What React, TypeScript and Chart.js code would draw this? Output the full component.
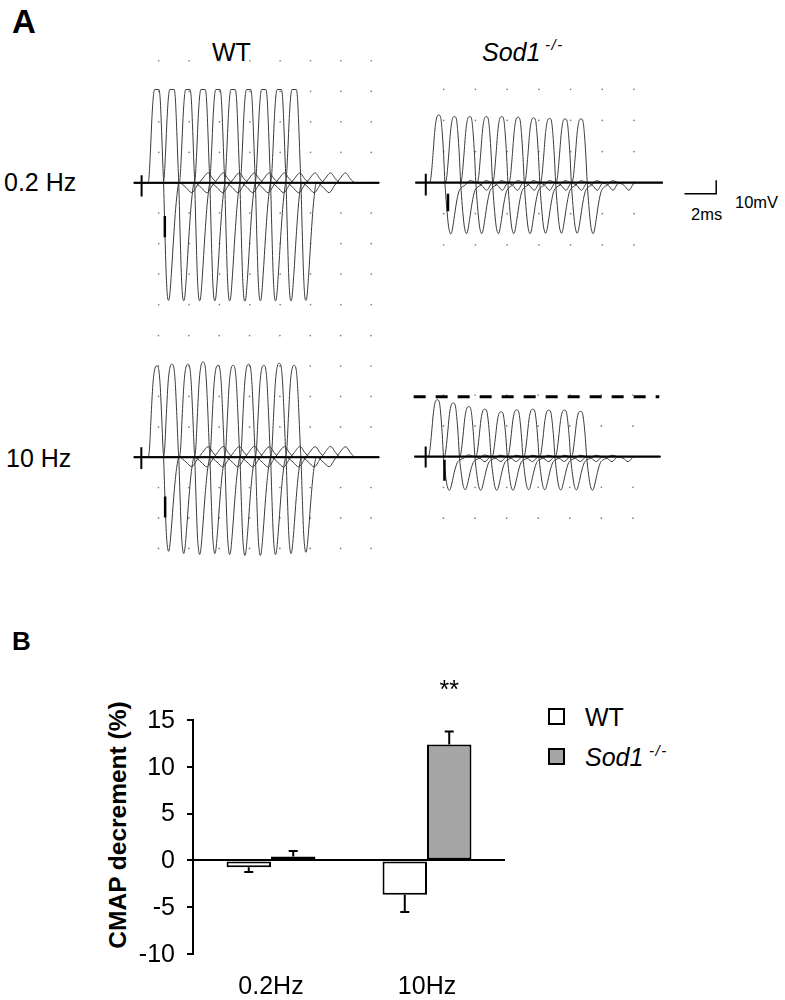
import React, { useEffect, useRef } from "react";
import { Chart, registerables } from "chart.js";

Chart.register(...registerables);

const FONT = "'Liberation Sans', Arial, Helvetica, sans-serif";

// ================= Panel B data =================
const FREQ_LABELS = ["0.2Hz", "10Hz"];
const WT_DECREMENT = [-0.72, -3.66];
const WT_SEM = [0.53, 1.86];
const SOD1_DECREMENT = [0.43, 12.39];
const SOD1_SEM = [0.57, 1.39];
const SOD1_SIGNIF = ["", "**"];
const Y_MIN = -10;
const Y_MAX = 15;
const Y_STEP = 5;

// ================= Panel A data (ms, mV) =================
// waveform templates: time from the positive peak (ms), amplitude normalised
// (positive part scaled by peak amplitude, negative part by trough amplitude)
const WT02_TPL_MS = [-0.575, -0.511, -0.415, -0.319, -0.224, -0.141, 0.141, 0.224, 0.319, 0.396, 0.447, 0.53, 0.626, 0.716, 0.78, 0.843, 0.958, 1.118, 1.278, 1.47, 1.917, 2.3, 2.684, 3.003, 3.387, 3.706, 4.026];
const WT02_TPL_AMP = [0, 0.06, 0.35, 0.7, 0.93, 1.0, 1.0, 0.9, 0.55, 0.2, 0, -0.4, -0.8, -0.98, -1.0, -0.97, -0.78, -0.45, -0.17, 0, -0.04, -0.085, -0.02, 0.04, 0.105, 0.04, 0];
const WT10_TPL_MS = [-0.575, -0.479, -0.383, -0.256, -0.128, 0, 0.128, 0.224, 0.319, 0.415, 0.447, 0.53, 0.626, 0.716, 0.78, 0.843, 0.958, 1.118, 1.278, 1.47, 1.917, 2.3, 2.684, 3.003, 3.387, 3.706, 4.026];
const WT10_TPL_AMP = [0, 0.1, 0.42, 0.8, 0.97, 1.0, 0.96, 0.78, 0.45, 0.08, 0, -0.4, -0.8, -0.97, -1.0, -0.96, -0.76, -0.42, -0.15, 0, -0.05, -0.1, -0.02, 0.05, 0.115, 0.05, 0];
const SOD_TPL_MS = [-0.585, -0.49, -0.37, -0.246, -0.123, 0, 0.123, 0.215, 0.308, 0.388, 0.49, 0.615, 0.708, 0.757, 0.83, 0.954, 1.108, 1.26, 1.415, 1.66, 1.97, 2.34, 2.7, 3.02, 3.32, 3.7];
const SOD_TPL_AMP = [0, 0.08, 0.4, 0.78, 0.97, 1.0, 0.96, 0.75, 0.4, 0, -0.45, -0.85, -0.98, -1.0, -0.95, -0.72, -0.4, -0.18, -0.1, -0.05, 0.03, 0, -0.05, -0.15, -0.02, 0];

// WT, 0.2 Hz
const WT02_PEAK_MS = [1.0, 2.0, 3.05, 4.05, 5.03, 6.03, 7.05, 8.05, 9.07, 10.05];
const WT02_PEAK_MV = [69.6, 69.6, 69.6, 69.6, 69.6, 69.6, 69.6, 69.6, 69.6, 69.6];
const WT02_TROUGH_MV = [87.9, 88.2, 88.2, 88.2, 88.2, 88.5, 88.2, 88.2, 88.2, 87.9];
// WT, 10 Hz
const WT10_PEAK_MS = [1.02, 2.02, 3.07, 4.07, 5.05, 6.05, 7.07, 8.07, 9.09, 10.07];
const WT10_PEAK_MV = [68.4, 69.6, 69.6, 71.3, 68.8, 68.8, 69.6, 68.8, 70.3, 68.8];
const WT10_TROUGH_MV = [70.5, 72.2, 72.9, 72.2, 72.9, 73.6, 73.6, 72.9, 72.2, 71.2];
// Sod1-/-, 0.2 Hz
const SOD02_PEAK_MS = [0.82, 1.81, 2.77, 3.82, 4.79, 5.82, 6.8, 7.8, 8.79, 9.79];
const SOD02_PEAK_MV = [49.4, 48.3, 48.3, 48.3, 48.3, 47.8, 47.3, 46.9, 46.6, 46.6];
const SOD02_TROUGH_MV = [37.5, 37.3, 37.3, 37.3, 37.3, 37.3, 37.0, 37.0, 37.0, 37.3];
// Sod1-/-, 10 Hz
const SOD10_PEAK_MS = [0.74, 1.75, 2.73, 3.75, 4.78, 5.77, 6.79, 7.8, 8.79, 9.81];
const SOD10_PEAK_MV = [42.0, 39.6, 36.9, 35.0, 33.1, 34.5, 35.0, 34.3, 34.3, 33.4];
const SOD10_TROUGH_MV = [24.9, 24.5, 24.9, 24.9, 24.9, 24.5, 24.5, 24.7, 24.6, 24.9];
const SOD10_FIRST_LEVEL_MV = 44.3;

// recording window, stimulus artefact and cursor marks
const WT02_WINDOW_MS = [-0.51, 15.65];
const WT10_WINDOW_MS = [-0.49, 15.67];
const SOD02_WINDOW_MS = [-0.65, 14.94];
const SOD10_WINDOW_MS = [-0.71, 14.87];
const WT02_STIM_MV = [5.6, -10.4];
const WT10_STIM_MV = [7.5, -8.9];
const SOD02_STIM_MV = [6.5, -9.4];
const SOD10_STIM_MV = [7.5, -8.1];
const WT02_CURSOR = { ms: 1.53, mv: [-24.9, -40.8] };
const WT10_CURSOR = { ms: 1.57, mv: [-29.4, -45.1] };
const SOD02_CURSOR = { ms: 1.4, mv: [-8.2, -21.0] };
const SOD10_CURSOR = { ms: 1.19, mv: [-2.3, -17.9] };

// dotted graticule
const WT_GRID_MS = [1.13, 3.13, 5.13, 7.13, 9.13, 11.13, 13.13, 15.13];
const SOD_GRID_MS = [1.13, 3.13, 5.13, 7.13, 9.13, 11.13, 13.13];
const WT02_GRID_MV = [91.1, 68.3, 45.5, 22.7, 0, -22.7, -45.5, -68.3, -91.1];
const WT10_GRID_MV = [91.1, 68.3, 45.5, 22.7, 0, -22.7, -45.5, -68.3];
const SOD02_GRID_MV = [68.2, 45.5, 22.7, 0, -22.7, -45.5];
const SOD10_GRID_MV = [45.5, 22.7, 0, -22.7, -45.5];

// calibration bar
const SCALE_MS = 2;
const SCALE_MV = 10;
const SCALE_CORNER = [18.31, -8.18];

// ================= layout =================
type Geo = { left: number; top: number; width: number; height: number; ox: number; oy: number; kx: number; ky: number };
const GEO_WT02: Geo = { left: 125, top: 50, width: 265, height: 265, ox: 138, oy: 182.7, kx: 15.65, ky: 1.38 };
const GEO_SOD02: Geo = { left: 400, top: 75, width: 335, height: 185, ox: 422.3, oy: 183.3, kx: 16.25, ky: 1.43 };
const GEO_WT10: Geo = { left: 125, top: 320, width: 265, height: 245, ox: 137.7, oy: 457.7, kx: 15.65, ky: 1.38 };
const GEO_SOD10: Geo = { left: 400, top: 380, width: 280, height: 150, ox: 422.3, oy: 456.7, kx: 16.25, ky: 1.43 };

type PanelData = {
  peaksMs: number[];
  peaksMv: number[];
  troughsMv: number[];
  tplMs: number[];
  tplAmp: number[];
  windowMs: number[];
  stimMv: number[];
  cursor: { ms: number; mv: number[] };
  gridMs: number[];
  gridMv: number[];
  dashedMv?: number;
  scaleBar?: boolean;
};

function line(points: { x: number; y: number }[], width: number, extra: any = {}) {
  return {
    type: "line",
    data: points,
    borderColor: "#000",
    borderWidth: width,
    pointRadius: 0,
    fill: false,
    tension: 0,
    ...extra,
  };
}

function traceConfig(geo: Geo, p: PanelData): any {
  const xmin = (geo.left - geo.ox) / geo.kx;
  const xmax = (geo.left + geo.width - geo.ox) / geo.kx;
  const ymax = (geo.oy - geo.top) / geo.ky;
  const ymin = (geo.oy - geo.top - geo.height) / geo.ky;

  const datasets: any[] = [];
  datasets.push(line([{ x: 0, y: p.stimMv[0] }, { x: 0, y: p.stimMv[1] }], 2));
  datasets.push(line([{ x: p.cursor.ms, y: p.cursor.mv[0] }, { x: p.cursor.ms, y: p.cursor.mv[1] }], 2.5));
  if (p.dashedMv !== undefined) {
    datasets.push(
      line([{ x: p.windowMs[0] - 0.05, y: p.dashedMv }, { x: p.windowMs[1] - 0.07, y: p.dashedMv }], 3, {
        borderDash: [12, 10],
      })
    );
  }
  if (p.scaleBar) {
    const [cx, cy] = SCALE_CORNER;
    datasets.push(
      line(
        [
          { x: cx - SCALE_MS, y: cy },
          { x: cx, y: cy },
          { x: cx, y: cy + SCALE_MV },
        ],
        1.5
      )
    );
  }
  datasets.push(line([{ x: p.windowMs[0], y: 0 }, { x: p.windowMs[1], y: 0 }], 2));
  p.peaksMs.forEach((pk, i) => {
    const pts = [{ x: p.windowMs[0], y: 0 }];
    p.tplMs.forEach((t, j) => {
      const a = p.tplAmp[j];
      pts.push({ x: pk + t, y: a >= 0 ? a * p.peaksMv[i] : a * p.troughsMv[i] });
    });
    pts.push({ x: p.windowMs[1], y: 0 });
    datasets.push(
      line(pts, 1, { borderColor: "#3a3a3a", cubicInterpolationMode: "monotone" })
    );
  });
  const dots: { x: number; y: number }[] = [];
  p.gridMs.forEach((gx) => p.gridMv.forEach((gy) => dots.push({ x: gx, y: gy })));
  datasets.push({
    type: "scatter",
    data: dots,
    showLine: false,
    pointRadius: 0.85,
    pointBorderWidth: 0,
    pointBackgroundColor: "#808080",
  });

  return {
    type: "line",
    data: { datasets },
    options: {
      responsive: false,
      maintainAspectRatio: false,
      animation: false,
      events: [],
      layout: { padding: 0 },
      plugins: { legend: { display: false }, tooltip: { enabled: false } },
      scales: {
        x: { type: "linear", display: false, min: xmin, max: xmax },
        y: { type: "linear", display: false, min: ymin, max: ymax },
      },
    },
  };
}

function ChartCanvas(props: { left: number; top: number; width: number; height: number; make: () => any }) {
  const ref = useRef<HTMLCanvasElement | null>(null);
  useEffect(() => {
    if (!ref.current) return;
    const chart = new Chart(ref.current, props.make());
    return () => chart.destroy();
  }, []);
  return (
    <canvas
      ref={ref}
      width={props.width}
      height={props.height}
      style={{ position: "absolute", left: props.left, top: props.top, width: props.width, height: props.height }}
    />
  );
}

// ================= bar chart =================
const barDecor = {
  id: "barDecor",
  afterDatasetsDraw(chart: any) {
    const { ctx, chartArea } = chart;
    const y = chart.scales.y;
    const x = chart.scales.x;
    ctx.save();
    ctx.strokeStyle = "#000";
    ctx.lineWidth = 2;
    chart.data.datasets.forEach((ds: any, di: number) => {
      const meta = chart.getDatasetMeta(di);
      meta.data.forEach((bar: any, i: number) => {
        const v = ds.data[i];
        const e = ds.errors[i];
        const end = v >= 0 ? v + e : v - e;
        const p0 = y.getPixelForValue(v);
        const p1 = y.getPixelForValue(end);
        ctx.beginPath();
        ctx.moveTo(bar.x, p0);
        ctx.lineTo(bar.x, p1);
        ctx.moveTo(bar.x - 4.5, p1);
        ctx.lineTo(bar.x + 4.5, p1);
        ctx.stroke();
        if (ds.signif && ds.signif[i]) {
          ctx.save();
          ctx.fillStyle = "#000";
          ctx.font = `25px ${FONT}`;
          ctx.textAlign = "center";
          ctx.textBaseline = "alphabetic";
          ctx.fillText(ds.signif[i], bar.x, p1 - 33);
          ctx.restore();
        }
      });
    });
    // tick labels
    ctx.fillStyle = "#000";
    ctx.font = `25px ${FONT}`;
    ctx.textAlign = "right";
    ctx.textBaseline = "middle";
    y.ticks.forEach((t: any) => {
      ctx.fillText(String(t.value), chartArea.left - 18, y.getPixelForValue(t.value) + 1);
    });
    ctx.textAlign = "center";
    chart.data.labels.forEach((lab: string, i: number) => {
      ctx.fillText(lab, x.getPixelForValue(i), chartArea.bottom + 33);
    });
    ctx.restore();
  },
};

function barConfig(): any {
  return {
    type: "bar",
    data: {
      labels: FREQ_LABELS,
      datasets: [
        {
          label: "WT",
          data: WT_DECREMENT,
          errors: WT_SEM,
          backgroundColor: "#ffffff",
          borderColor: "#000",
          borderWidth: 2,
          borderSkipped: false,
        },
        {
          label: "Sod1 -/-",
          data: SOD1_DECREMENT,
          errors: SOD1_SEM,
          signif: SOD1_SIGNIF,
          backgroundColor: "#a6a6a6",
          borderColor: "#000",
          borderWidth: 2,
          borderSkipped: false,
        },
      ],
    },
    options: {
      responsive: false,
      maintainAspectRatio: false,
      animation: false,
      events: [],
      layout: { padding: { top: 60, right: 15, left: 0, bottom: 0 } },
      datasets: { bar: { categoryPercentage: 0.57, barPercentage: 1.0 } },
      plugins: { legend: { display: false }, tooltip: { enabled: false } },
      scales: {
        x: {
          grid: { display: false },
          border: { display: false },
          ticks: { display: false },
          afterFit: (s: any) => {
            s.height = 46;
          },
        },
        y: {
          min: Y_MIN,
          max: Y_MAX,
          ticks: { display: false, stepSize: Y_STEP },
          border: { display: true, color: "#000", width: 2 },
          grid: {
            color: (c: any) => (c.tick && c.tick.value === 0 ? "#000" : "rgba(0,0,0,0)"),
            lineWidth: 2,
            drawTicks: true,
            tickLength: 6,
            tickColor: "#000",
            tickWidth: 2,
          },
          afterFit: (s: any) => {
            s.width = 113;
          },
        },
      },
    },
    plugins: [barDecor],
  };
}

// ================= text helper =================
function Txt(props: { x: number; capTop: number; fs: number; bold?: boolean; italic?: boolean; ls?: number; children: any }) {
  return (
    <div
      style={{
        position: "absolute",
        left: props.x,
        top: props.capTop - 0.13 * props.fs,
        fontSize: props.fs,
        lineHeight: 1,
        fontWeight: props.bold ? 700 : 400,
        fontStyle: props.italic ? "italic" : "normal",
        letterSpacing: props.ls,
        whiteSpace: "nowrap",
      }}
    >
      {props.children}
    </div>
  );
}

export default function App() {
  const wt02: PanelData = {
    peaksMs: WT02_PEAK_MS, peaksMv: WT02_PEAK_MV, troughsMv: WT02_TROUGH_MV,
    tplMs: WT02_TPL_MS, tplAmp: WT02_TPL_AMP, windowMs: WT02_WINDOW_MS,
    stimMv: WT02_STIM_MV, cursor: WT02_CURSOR, gridMs: WT_GRID_MS, gridMv: WT02_GRID_MV,
  };
  const wt10: PanelData = {
    peaksMs: WT10_PEAK_MS, peaksMv: WT10_PEAK_MV, troughsMv: WT10_TROUGH_MV,
    tplMs: WT10_TPL_MS, tplAmp: WT10_TPL_AMP, windowMs: WT10_WINDOW_MS,
    stimMv: WT10_STIM_MV, cursor: WT10_CURSOR, gridMs: WT_GRID_MS, gridMv: WT10_GRID_MV,
  };
  const sod02: PanelData = {
    peaksMs: SOD02_PEAK_MS, peaksMv: SOD02_PEAK_MV, troughsMv: SOD02_TROUGH_MV,
    tplMs: SOD_TPL_MS, tplAmp: SOD_TPL_AMP, windowMs: SOD02_WINDOW_MS,
    stimMv: SOD02_STIM_MV, cursor: SOD02_CURSOR, gridMs: SOD_GRID_MS, gridMv: SOD02_GRID_MV,
    scaleBar: true,
  };
  const sod10: PanelData = {
    peaksMs: SOD10_PEAK_MS, peaksMv: SOD10_PEAK_MV, troughsMv: SOD10_TROUGH_MV,
    tplMs: SOD_TPL_MS, tplAmp: SOD_TPL_AMP, windowMs: SOD10_WINDOW_MS,
    stimMv: SOD10_STIM_MV, cursor: SOD10_CURSOR, gridMs: SOD_GRID_MS, gridMv: SOD10_GRID_MV,
    dashedMv: SOD10_FIRST_LEVEL_MV,
  };

  const box = (top: number, bg: string) => (
    <div
      style={{
        position: "absolute",
        left: 548,
        top,
        width: 17,
        height: 17,
        boxSizing: "border-box",
        border: "2px solid #000",
        background: bg,
      }}
    />
  );

  return (
    <div
      style={{
        position: "absolute",
        left: 0,
        top: 0,
        width: 785,
        height: 1000,
        overflow: "hidden",
        background: "#fff",
        color: "#000",
        fontFamily: FONT,
      }}
    >
      <Txt x={12} capTop={9} fs={33} bold>A</Txt>
      <Txt x={212} capTop={43} fs={25}>WT</Txt>
      <Txt x={482} capTop={43} fs={25} italic>Sod1</Txt>
      <Txt x={545} capTop={39} fs={15} italic ls={1.5}>-/-</Txt>
      <Txt x={4} capTop={173} fs={25}>0.2 Hz</Txt>
      <Txt x={6} capTop={449.5} fs={25}>10 Hz</Txt>
      <Txt x={691} capTop={208} fs={16.5}>2ms</Txt>
      <Txt x={735} capTop={196.5} fs={16.5}>10mV</Txt>

      <ChartCanvas {...GEO_WT02} make={() => traceConfig(GEO_WT02, wt02)} />
      <ChartCanvas {...GEO_SOD02} make={() => traceConfig(GEO_SOD02, sod02)} />
      <ChartCanvas {...GEO_WT10} make={() => traceConfig(GEO_WT10, wt10)} />
      <ChartCanvas {...GEO_SOD10} make={() => traceConfig(GEO_SOD10, sod10)} />

      <Txt x={12} capTop={631} fs={26} bold>B</Txt>
      <div
        style={{
          position: "absolute",
          left: 118,
          top: 825,
          transform: "translate(-50%, -50%) rotate(-90deg)",
          fontSize: 24.5,
          fontWeight: 700,
          lineHeight: 1,
          whiteSpace: "nowrap",
        }}
      >
        CMAP decrement (%)
      </div>
      <ChartCanvas left={80} top={660} width={440} height={340} make={barConfig} />

      {box(708, "#ffffff")}
      {box(748, "#a6a6a6")}
      <Txt x={585} capTop={708} fs={25}>WT</Txt>
      <Txt x={585} capTop={748} fs={25} italic>Sod1</Txt>
      <Txt x={649} capTop={745} fs={15} italic ls={1.5}>-/-</Txt>
    </div>
  );
}
